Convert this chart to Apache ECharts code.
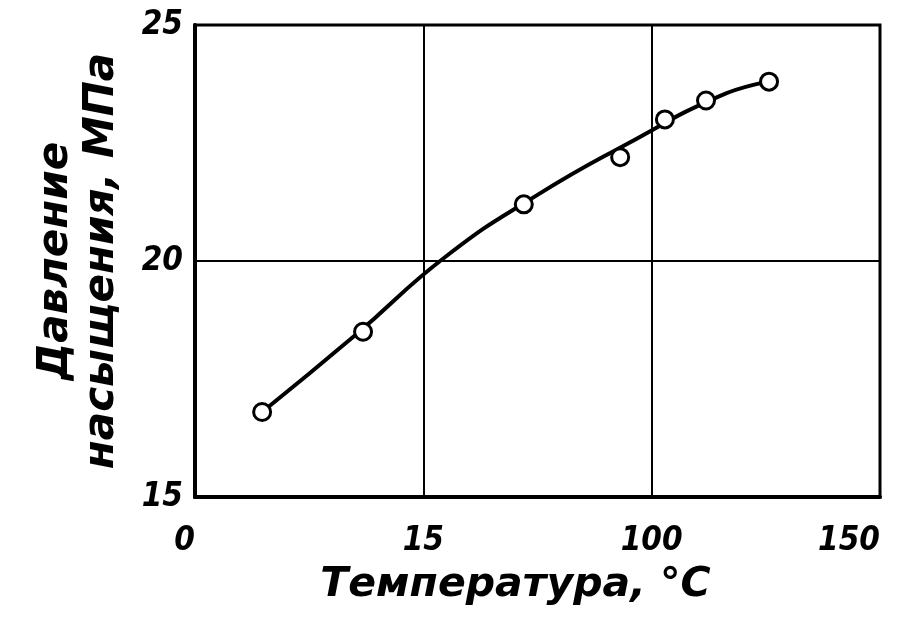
<!DOCTYPE html>
<html>
<head>
<meta charset="utf-8">
<script src="https://cdn.jsdelivr.net/npm/echarts@6/dist/echarts.min.js"></script>
<style>html,body{margin:0;padding:0;background:#fff}#c{width:900px;height:618px}</style>
</head>
<body>
<div id="c"></div>
<script>
// Measured points: temperature (°C) and saturation pressure (MPa)
var pointT = [14.7, 36.8, 72.0, 93.1, 102.9, 111.9, 125.7];
var pointP = [16.8, 18.5, 21.2, 22.2, 23.0, 23.4, 23.8];
// Drawn curve
var curveT = [14.7, 35, 55, 75, 95, 115, 125.7];
var curveP = [16.8, 18.42, 20.1, 21.4, 22.5, 23.5, 23.8];
// Tick values and their printed labels
var xTicks = [0, 50, 100, 150];
var xTickLabels = ['0', '15', '100', '150'];
var yTicks = [15, 20, 25];
var yTickLabels = ['15', '20', '25'];
var xTitle = 'Температура, °С';
var yTitle = 'Давление\nнасыщения, МПа';

var FONT = '"DejaVu Sans Condensed", "Liberation Sans Narrow", sans-serif';
var TFONT = '"DejaVu Sans", sans-serif';
function zip(a, b) { return a.map(function (v, i) { return [v, b[i]]; }); }

var chart = echarts.init(document.getElementById('c'), null, {renderer: 'canvas'});
chart.setOption({
  animation: false,
  backgroundColor: '#fff',
  grid: {left: 195, right: 20, top: 25, bottom: 121, outerBoundsMode: 'none', containLabel: false,
         show: true, borderColor: '#000', borderWidth: 3, backgroundColor: 'transparent'},
  xAxis: {
    type: 'value', min: 0, max: 150, interval: 50,
    name: xTitle, nameLocation: 'middle', nameGap: 68,
    nameTextStyle: {color: '#000', fontFamily: TFONT, fontStyle: 'italic', fontWeight: 'bold', fontSize: 41, padding: [0, 44, 0, 0]},
    axisLine: {show: true, lineStyle: {color: '#000', width: 4}},
    axisTick: {show: false},
    splitLine: {show: true, lineStyle: {color: '#000', width: 2}},
    axisLabel: {
      margin: 28, color: '#000', fontFamily: FONT, fontStyle: 'italic', fontWeight: 'bold', fontSize: 33,
      alignMinLabel: 'right', alignMaxLabel: 'right',
      formatter: function (v) { var i = xTicks.indexOf(v); return i >= 0 ? xTickLabels[i] : ''; }
    }
  },
  yAxis: {
    type: 'value', min: 15, max: 25, interval: 5,
    name: yTitle, nameLocation: 'middle', nameGap: 70, nameRotate: 90,
    nameTextStyle: {color: '#000', fontFamily: TFONT, fontStyle: 'italic', fontWeight: 'bold', fontSize: 42, lineHeight: 46},
    axisLine: {show: true, lineStyle: {color: '#000', width: 4}},
    axisTick: {show: false},
    splitLine: {show: true, lineStyle: {color: '#000', width: 2}},
    axisLabel: {
      margin: 12, color: '#000', fontFamily: FONT, fontStyle: 'italic', fontWeight: 'bold', fontSize: 33,
      formatter: function (v) { var i = yTicks.indexOf(v); return i >= 0 ? yTickLabels[i] : ''; }
    }
  },
  series: [
    {
      type: 'line', data: zip(curveT, curveP), smooth: 0.5, showSymbol: false,
      lineStyle: {color: '#000', width: 4}, z: 3
    },
    {
      type: 'scatter', data: zip(pointT, pointP), symbol: 'circle', symbolSize: 17,
      itemStyle: {color: '#fff', borderColor: '#000', borderWidth: 3, opacity: 1}, z: 5
    }
  ]
});
</script>
</body>
</html>
